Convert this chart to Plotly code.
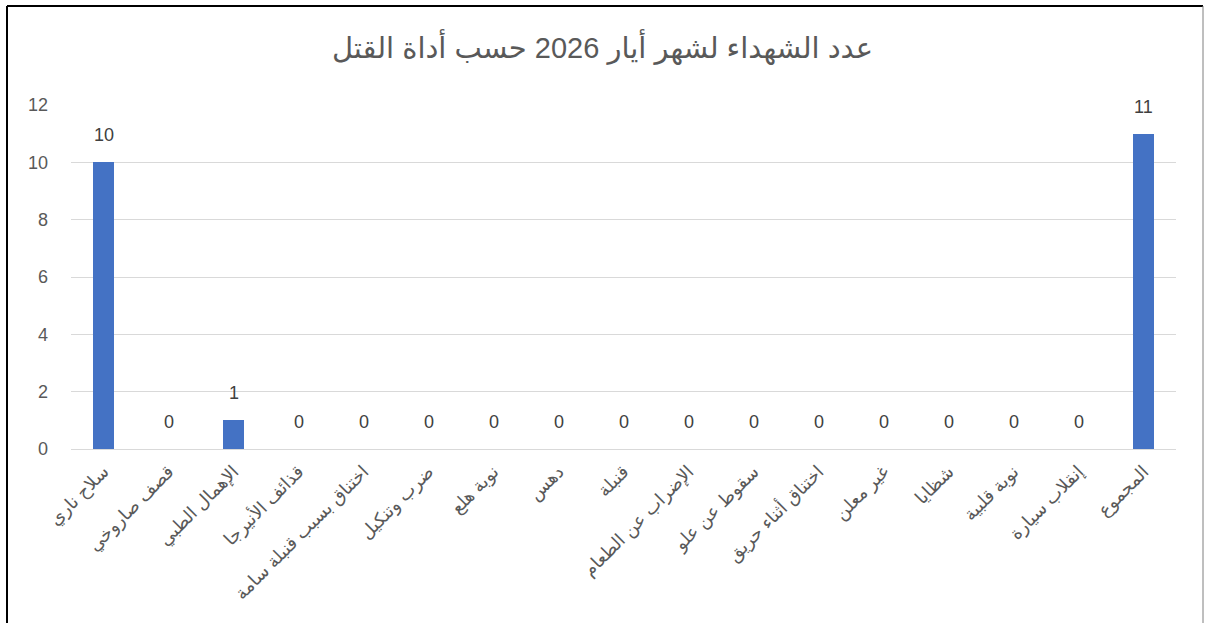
import plotly.graph_objects as go

categories = [
    "سلاح ناري", "قصف صاروخي", "الإهمال الطبي", "قذائف الأنيرجا",
    "اختناق بسبب قنبلة سامة", "ضرب وتنكيل", "نوبة هلع", "دهس", "قنبلة",
    "الإضراب عن الطعام", "سقوط عن علو", "اختناق أثناء حريق", "غير معلن",
    "شظايا", "نوبة قلبية", "إنقلاب سيارة", "المجموع",
]
values = [10, 0, 1, 0, 0, 0, 0, 0, 0, 0, 0, 0, 0, 0, 0, 0, 11]
y_ticks = [0, 2, 4, 6, 8, 10, 12]
title_text = "عدد الشهداء لشهر أيار 2026 حسب أداة القتل"

FONT = "Liberation Sans, Arial, DejaVu Sans, sans-serif"
GREY = "#595959"

fig = go.Figure(go.Bar(
    x=categories, y=values,
    marker=dict(color="#4472C4", line=dict(width=0)),
    width=0.31,
))

for c, v in zip(categories, values):
    fig.add_annotation(x=c, y=v, text=str(v), showarrow=False,
                       yanchor="middle", yshift=27,
                       font=dict(family=FONT, size=18, color="#404040"))

W, H = 1205, 623
l, r, t, b = 71, 29, 105, 174
pw, ph = W - l - r, H - t - b

def px_x(p):
    return (p - l) / pw

def px_y(p):
    return (H - b - p) / ph

fig.update_layout(
    width=W, height=H,
    margin=dict(l=l, r=r, t=t, b=b, autoexpand=False),
    paper_bgcolor="white", plot_bgcolor="white",
    title=dict(text=title_text, x=0.5, xanchor="center", y=1 - 48 / H,
               yanchor="middle", yref="container",
               font=dict(family=FONT, size=29, color=GREY)),
    showlegend=False,
    bargap=0,
    xaxis=dict(tickangle=-45, tickfont=dict(family=FONT, size=18, color=GREY),
               showgrid=False, showline=True, linecolor="#D9D9D9", linewidth=1,
               ticks="outside", ticklen=4, tickcolor="rgba(0,0,0,0)", automargin=False),
    yaxis=dict(range=[0, 12], tickvals=y_ticks, showgrid=True, gridcolor="#D9D9D9",
               gridwidth=1, zeroline=False, showline=False, ticks="",
               tickfont=dict(family=FONT, size=18, color=GREY), ticklabelstandoff=22,
               automargin=False),
    shapes=[
        dict(type="line", xref="paper", yref="paper", x0=px_x(7), x1=px_x(7),
             y0=px_y(6), y1=-1, line=dict(color="black", width=2)),
        dict(type="line", xref="paper", yref="paper", x0=px_x(7), x1=px_x(1203),
             y0=px_y(6), y1=px_y(6), line=dict(color="black", width=2)),
        dict(type="line", xref="paper", yref="paper", x0=px_x(1203), x1=px_x(1203),
             y0=px_y(6), y1=-1, line=dict(color="#7F7F7F", width=1)),
    ],
)

fig.write_html("out.html", config={"displayModeBar": False},
               post_script="document.body.style.margin='0';document.body.style.overflow='hidden';")
